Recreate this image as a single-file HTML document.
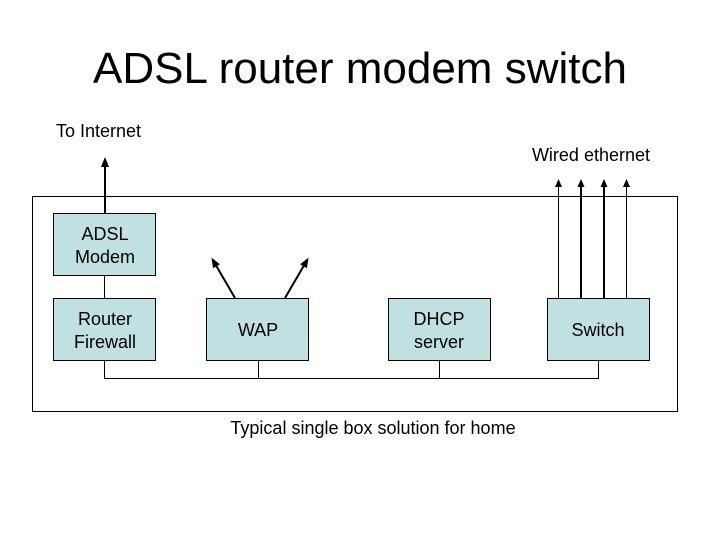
<!DOCTYPE html>
<html><head><meta charset="utf-8"><style>
html,body{margin:0;padding:0;background:#fff;}
body{width:720px;height:540px;overflow:hidden;}
text{font-family:"Liberation Sans",Arial,sans-serif;fill:#000;}
</style></head><body>
<svg width="720" height="540" viewBox="0 0 720 540" xmlns="http://www.w3.org/2000/svg">
<defs>
<marker id="a" markerWidth="8" markerHeight="8" refX="4" refY="4" orient="auto" markerUnits="userSpaceOnUse"><path d="M0,0.5 L8,4 L0,7.5 z" fill="#000"/></marker>
<marker id="b" markerWidth="10" markerHeight="10" refX="5" refY="5" orient="auto" markerUnits="userSpaceOnUse"><path d="M0,1 L10,5 L0,9 z" fill="#000"/></marker>
</defs>
<text x="360" y="83" font-size="44" text-anchor="middle">ADSL router modem switch</text>
<text x="56" y="137" font-size="18">To Internet</text>
<text x="650" y="161" font-size="18" text-anchor="end">Wired ethernet</text>
<rect x="32.5" y="196.5" width="645" height="215" fill="none" stroke="#000" stroke-width="1"/>
<line x1="105" y1="213" x2="105" y2="162" stroke="#000" stroke-width="2" marker-end="url(#b)"/>
<line x1="104.5" y1="275" x2="104.5" y2="298" stroke="#000"/>
<polyline points="104.5,360 104.5,378.5 598.5,378.5 598.5,360" fill="none" stroke="#000"/>
<line x1="258.5" y1="360" x2="258.5" y2="378" stroke="#000"/>
<line x1="439.5" y1="360" x2="439.5" y2="378" stroke="#000"/>
<line x1="235" y1="298" x2="214" y2="262" stroke="#000" stroke-width="2" marker-end="url(#b)"/>
<line x1="285" y1="298" x2="306" y2="262" stroke="#000" stroke-width="2" marker-end="url(#b)"/>
<line x1="558.5" y1="298" x2="558.5" y2="183" stroke="#000" stroke-width="1" marker-end="url(#a)"/>
<line x1="581" y1="298" x2="581" y2="183" stroke="#000" stroke-width="2" marker-end="url(#a)"/>
<line x1="604" y1="298" x2="604" y2="183" stroke="#000" stroke-width="2" marker-end="url(#a)"/>
<line x1="626.5" y1="298" x2="626.5" y2="183" stroke="#000" stroke-width="1" marker-end="url(#a)"/>
<g fill="#c0e0e2" stroke="#000" stroke-width="1">
<rect x="53.5" y="213.5" width="102" height="62"/>
<rect x="53.5" y="298.5" width="102" height="62"/>
<rect x="206.5" y="298.5" width="102" height="62"/>
<rect x="388.5" y="298.5" width="102" height="62"/>
<rect x="547.5" y="298.5" width="102" height="62"/>
</g>
<g font-size="18" text-anchor="middle">
<text x="105" y="240">ADSL</text><text x="105" y="263">Modem</text>
<text x="105" y="325">Router</text><text x="105" y="348">Firewall</text>
<text x="258" y="336">WAP</text>
<text x="439" y="325">DHCP</text><text x="439" y="348">server</text>
<text x="598" y="336">Switch</text>
</g>
<text x="373" y="434" font-size="18" text-anchor="middle">Typical single box solution for home</text>
</svg>
</body></html>
